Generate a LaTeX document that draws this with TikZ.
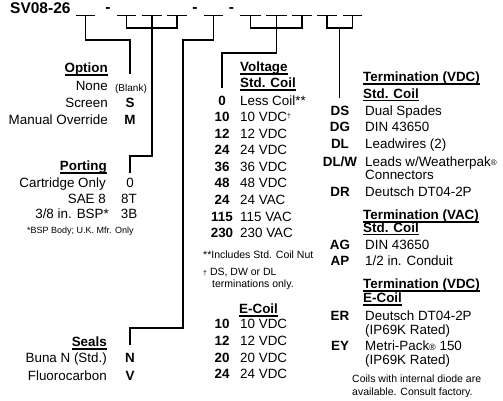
\documentclass[tikz,border=0pt]{standalone}
\usepackage{fontspec}
\setmainfont{Liberation Sans}
\usepackage{tikz}
\usetikzlibrary{calc}
% underlined heading, rule a little under the baseline
\newcommand{\ulhead}[1]{\setbox0\hbox{#1}\rlap{\rule[-3pt]{\wd0}{1.2pt}}\box0}
\newcommand{\smallsym}[1]{{\fontsize{7}{7}\selectfont\raisebox{3.5pt}{#1}}}

\begin{document}
\fontsize{13.4}{15}\selectfont
\begin{tikzpicture}[x=1pt, y=-1pt,
    conn/.style={line width=1.1pt},
    lbl/.style={inner sep=0pt, anchor=mid east},
    val/.style={inner sep=0pt, anchor=mid west},
    code/.style={inner sep=0pt, anchor=mid, font=\bfseries},
    hdr/.style={inner sep=0pt, anchor=mid west, font=\bfseries},
    note/.style={inner sep=0pt, anchor=mid west, font=\fontsize{10.5}{12}\selectfont}]
    \useasboundingbox (0,0) rectangle (503,400);

    % Model code with blanks
    \node[inner sep=0pt, anchor=base west, font=\fontsize{15.5}{17}\selectfont\bfseries] (title) at (10,13) {SV08-26};
    \foreach \a/\b [count=\i] in {76/95, 117/136, 142/162, 167/187, 204/223, 240/261, 266/287, 292/312, 317/337, 343/362} {
        \draw[conn] (\a,15.5) -- (\b,15.5);
        \coordinate (b\i) at ({(\a+\b)/2},15.5);
    }
    \node[code, font=\fontsize{15.5}{17}\selectfont\bfseries] (dash1) at (108,8.5) {-};
    \node[code, font=\fontsize{15.5}{17}\selectfont\bfseries] (dash2) at (195,8.5) {-};
    \node[code, font=\fontsize{15.5}{17}\selectfont\bfseries] (dash3) at (231.5,8.5) {-};

    % Connectors from the blanks
    \coordinate (optend) at (130,74);
    \draw[conn] (b1) |- (130,40) -- (optend);
    \draw[conn] (b2) -- ++(0,12.5) -| (b4);
    \coordinate (portend) at (130,173);
    \draw[conn] (b3) |- (130,156) -- (portend);
    \coordinate (sealend) at (130,345);
    \draw[conn] (b5) |- (183,40) |- (130,328) -- (sealend);
    \draw[conn] (b6) -- ++(0,12.5) -| (b8);
    \coordinate (voltend) at (222,88);
    \draw[conn] (b7) |- (222,53) -- (voltend);
    \draw[conn] (b9) -- ++(0,12.5) -| (b10);
    \coordinate (termtop) at ($(b9)!0.5!(b10)+(0,12.5)$);
    \coordinate (termend) at ($(termtop)+(0,70)$);
    \draw[conn] (termtop) -- (termend);

    % Option
    \node[hdr, anchor=mid east] (opthead) at (108,69) {\ulhead{Option}};
    \node[lbl] (optnone) at (108,87) {None};
    \node[inner sep=0pt, anchor=mid, font=\fontsize{10}{12}\selectfont] (optblank) at (131,87.5) {(Blank)};
    \node[lbl] (optscreen) at (108,104) {Screen};
    \node[code] (optS) at (130,104) {S};
    \node[lbl] (optman) at (108,121) {Manual Override};
    \node[code] (optM) at (130,121) {M};

    % Porting
    \node[hdr, anchor=mid east] (porthead) at (107,167) {\ulhead{Porting}};
    \node[lbl] (portcart) at (106,184) {Cartridge Only};
    \node[code, font=\mdseries] (port0) at (130,184) {0};
    \node[lbl] (portsae) at (106,199.5) {SAE 8};
    \node[code, font=\mdseries] (port8T) at (129,199.5) {8T};
    \node[lbl] (portbsp) at (109,215) {3/8 in. BSP*};
    \node[code, font=\mdseries] (port3B) at (129,215) {3B};
    \node[note, font=\fontsize{9}{11}\selectfont] (portnote) at (27,230) {*BSP Body; U.K. Mfr. Only};

    % Seals
    \node[hdr, anchor=mid east] (sealhead) at (107,343) {\ulhead{Seals}};
    \node[lbl] (sealbuna) at (107,359) {Buna N (Std.)};
    \node[code] (sealN) at (130,359) {N};
    \node[lbl] (sealfluoro) at (107,377) {Fluorocarbon};
    \node[code] (sealV) at (130,377) {V};

    % Voltage, std. coil
    \node[hdr] (volthead) at (240,68) {\ulhead{Voltage}};
    \node[hdr] (voltstd) at (240,84) {\ulhead{Std. Coil}};
    \node[code] (v0) at (222,102) {0};
    \node[val] (v0t) at (240,102) {Less Coil**};
    \node[code] (v10) at (222,118) {10};
    \node[val] (v10t) at (240,118) {10 VDC\smallsym{†}};
    \node[code] (v12) at (222,134.5) {12};
    \node[val] (v12t) at (240,134.5) {12 VDC};
    \node[code] (v24) at (222,151) {24};
    \node[val] (v24t) at (240,151) {24 VDC};
    \node[code] (v36) at (222,167.5) {36};
    \node[val] (v36t) at (240,167.5) {36 VDC};
    \node[code] (v48) at (222,184) {48};
    \node[val] (v48t) at (240,184) {48 VDC};
    \node[code] (v24a) at (222,201) {24};
    \node[val] (v24at) at (240,201) {24 VAC};
    \node[code] (v115) at (222,217.5) {115};
    \node[val] (v115t) at (240,217.5) {115 VAC};
    \node[code] (v230) at (222,234) {230};
    \node[val] (v230t) at (240,234) {230 VAC};
    \node[note] (voltnote1) at (203,255) {**Includes Std. Coil Nut};
    \node[note] (voltnote2) at (203,272) {{\fontsize{7}{7}\selectfont †} DS, DW or DL};
    \node[note] (voltnote3) at (212,283.5) {terminations only.};

    % Voltage, E-coil
    \node[hdr] (ecoilhead) at (239,310) {\ulhead{E-Coil}};
    \node[code] (e10) at (222,325) {10};
    \node[val] (e10t) at (240,325) {10 VDC};
    \node[code] (e12) at (222,342) {12};
    \node[val] (e12t) at (240,342) {12 VDC};
    \node[code] (e20) at (222,358.5) {20};
    \node[val] (e20t) at (240,358.5) {20 VDC};
    \node[code] (e24) at (222,375) {24};
    \node[val] (e24t) at (240,375) {24 VDC};

    % Termination
    \node[hdr] (termhead) at (363,78) {\ulhead{Termination (VDC)}};
    \node[hdr] (termstd) at (363,94.5) {\ulhead{Std. Coil}};
    \node[code] (tDS) at (340,111.5) {DS};
    \node[val] (tDSt) at (365,111.5) {Dual Spades};
    \node[code] (tDG) at (340,128) {DG};
    \node[val] (tDGt) at (365,128) {DIN 43650};
    \node[code] (tDL) at (340,145) {DL};
    \node[val] (tDLt) at (365,145) {Leadwires (2)};
    \node[code] (tDLW) at (340,162.5) {DL/W};
    \node[val] (tDLWt) at (365,162.5) {Leads w/Weatherpak{\fontsize{8}{8}\selectfont\raisebox{1pt}{®}}};
    \node[val] (tDLWt2) at (365,175.5) {Connectors};
    \node[code] (tDR) at (340,193) {DR};
    \node[val] (tDRt) at (365,193) {Deutsch DT04-2P};
    \node[hdr] (vachead) at (363,216) {\ulhead{Termination (VAC)}};
    \node[hdr] (vacstd) at (363,228.5) {\ulhead{Std. Coil}};
    \node[code] (tAG) at (340,246) {AG};
    \node[val] (tAGt) at (365,246) {DIN 43650};
    \node[code] (tAP) at (340,262) {AP};
    \node[val] (tAPt) at (365,262) {1/2 in. Conduit};
    \node[hdr] (ecohead) at (363,285) {\ulhead{Termination (VDC)}};
    \node[hdr] (ecoil) at (363,299) {\ulhead{E-Coil}};
    \node[code] (tER) at (340,317) {ER};
    \node[val] (tERt) at (365,317) {Deutsch DT04-2P};
    \node[val] (tERt2) at (365,330.5) {(IP69K Rated)};
    \node[code] (tEY) at (340,347) {EY};
    \node[val] (tEYt) at (365,347) {Metri-Pack{\fontsize{9}{9}\selectfont ®} 150};
    \node[val] (tEYt2) at (365,360.5) {(IP69K Rated)};
    \node[note] (diode1) at (352,379) {Coils with internal diode are};
    \node[note] (diode2) at (352,392) {available. Consult factory.};
\end{tikzpicture}
\end{document}
